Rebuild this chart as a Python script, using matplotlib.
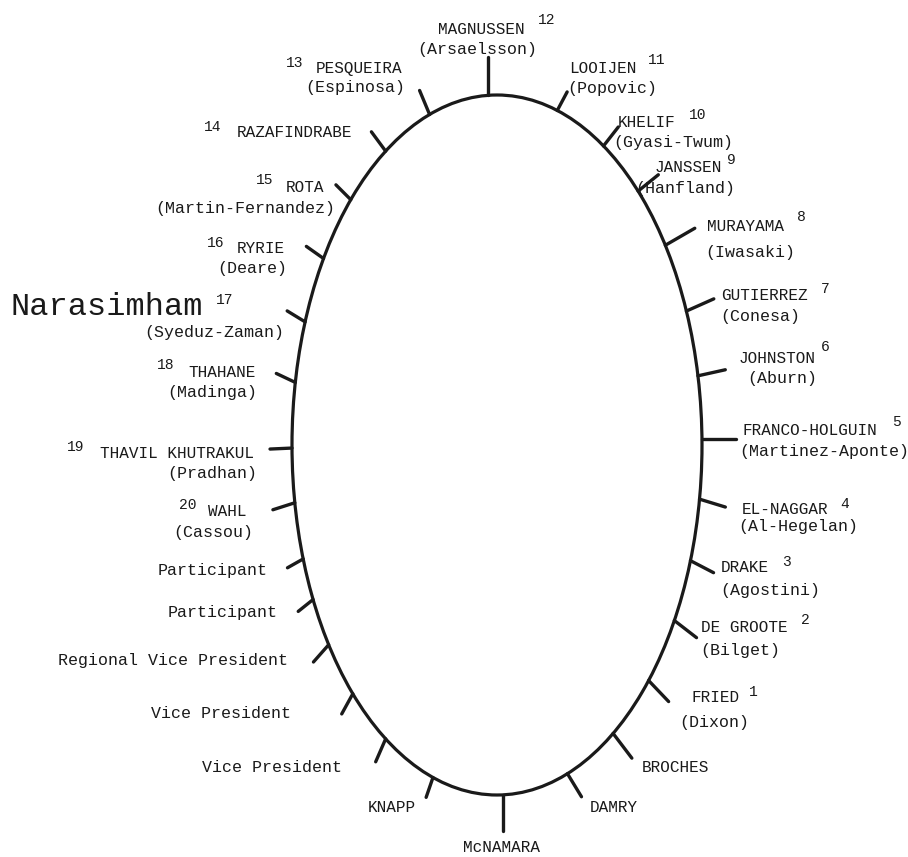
import numpy as np
import matplotlib
matplotlib.use("Agg")
import matplotlib.pyplot as plt
from matplotlib.patches import Ellipse

# ---------------- data (clockwise from the top seat) ----------------
seat_names = ["MAGNUSSEN", "LOOIJEN", "KHELIF", "JANSSEN", "MURAYAMA", "GUTIERREZ",
              "JOHNSTON", "FRANCO-HOLGUIN", "EL-NAGGAR", "DRAKE", "DE GROOTE", "FRIED",
              "BROCHES", "DAMRY", "McNAMARA", "KNAPP", "Vice President", "Vice President",
              "Regional Vice President", "Participant", "Participant", "WAHL",
              "THAVIL KHUTRAKUL", "THAHANE", "Narasimham", "RYRIE", "ROTA",
              "RAZAFINDRABE", "PESQUEIRA"]
seat_alternates = ["(Arsaelsson)", "(Popovic)", "(Gyasi-Twum)", "(Hanfland)", "(Iwasaki)",
                   "(Conesa)", "(Aburn)", "(Martinez-Aponte)", "(Al-Hegelan)", "(Agostini)",
                   "(Bilget)", "(Dixon)", "", "", "", "", "", "", "", "", "",
                   "(Cassou)", "(Pradhan)", "(Madinga)", "(Syeduz-Zaman)", "(Deare)",
                   "(Martin-Fernandez)", "", "(Espinosa)"]
seat_numbers = ["12", "11", "10", "9", "8", "7", "6", "5", "4", "3", "2", "1",
                "", "", "", "", "", "", "", "", "",
                "20", "19", "18", "17", "16", "15", "14", "13"]

# ---------------- layout ----------------
W, H = 908, 857
table_center = (497, 445)
table_a, table_b = 205, 350  # semi-axes (px)

# parametric angle of each seat on the table (deg)
seat_theta = [92.5, 72.9, 58.7, 46.5, 34.8, 22.5, 11.4, 1.0, -8.9, -19.3, -30.1, -42.3,
              -55.5, -69.9, -88.3, -108.2, -122.9, -134.7, -145.2, -153.8, -161.0, -170.5,
              180.5, 169.7, 159.4, 147.8, 135.5, 122.9, 109.2]
# direction (deg, y up) and length (px) of each seat mark
tick_dir = [90, 62, 52, 39, 30, 24, 12.5, 0, -17, -27.5, -37.7, -46.4, -52.8, -58.7,
            -90, -109, -113.5, -118.8, -131.4, -141.3, -150.6, -162.3, -177.4,
            154.7, 148.6, 144.8, 135, 126.4, 112.6]
tick_len = [38, 21, 24, 26, 34, 30, 28, 34, 27, 26, 28, 29, 31, 27, 36, 21, 25, 23, 23,
            19, 18, 23, 22, 21, 21, 21, 21, 24, 26]

name_xy = [(481, 29), (603, 68), (647, 122), (688, 167), (746, 226), (764, 296),
           (777, 358), (810, 430), (785, 509), (745, 568), (744, 628), (716, 698),
           (675, 767), (614, 807), (502, 847), (392, 807), (272, 767), (221, 713),
           (173, 660), (223, 612), (213, 571), (227, 511), (177, 453), (222, 372),
           (107, 307), (261, 248), (305, 187), (295, 132), (359, 68)]
alt_xy = [(477, 49), (612, 88), (673, 142), (685, 188), (750, 252), (760, 317),
          (782, 378), (824, 451), (798, 527), (770, 591), (740, 651), (714, 722),
          None, None, None, None, None, None, None, None, None,
          (213, 532), (212, 473), (212, 392), (214, 333), (252, 268), (245, 208),
          None, (355, 87)]
num_xy = [(547, 20), (657, 60), (698, 115), (731, 160), (801, 217), (825, 289),
          (825, 347), (896, 422), (845, 504), (786, 562), (805, 620), (753, 692),
          None, None, None, None, None, None, None, None, None,
          (188, 505), (76, 447), (166, 365), (225, 300), (216, 243), (265, 180),
          (213, 127), (295, 63)]

MONO = "Liberation Mono"

fig = plt.figure(figsize=(W / 100, H / 100), dpi=100)
ax = fig.add_axes([0, 0, 1, 1])
ax.set_xlim(0, W)
ax.set_ylim(H, 0)
ax.axis("off")

ax.add_patch(Ellipse(table_center, 2 * table_a, 2 * table_b, fill=False,
                     lw=2.3, color="#1a1a1a"))

cx, cy = table_center
for i in range(len(seat_names)):
    t = np.radians(seat_theta[i])
    px = cx + table_a * np.cos(t)
    py = cy - table_b * np.sin(t)
    d = np.radians(tick_dir[i])
    ex = px + tick_len[i] * np.cos(d)
    ey = py - tick_len[i] * np.sin(d)
    ax.plot([px, ex], [py, ey], color="#1a1a1a", lw=2.4, solid_capstyle="round")

    name = seat_names[i]
    if name == "Narasimham":
        fs = 23
    elif name.isupper() or name.startswith("Mc"):
        fs = 11.5
    else:
        fs = 12
    ax.text(*name_xy[i], name, ha="center", va="center", fontsize=fs,
            family=MONO, color="#1a1a1a")
    if seat_alternates[i]:
        ax.text(*alt_xy[i], seat_alternates[i], ha="center", va="center",
                fontsize=12, family=MONO, color="#1a1a1a")
    if seat_numbers[i]:
        ax.text(*num_xy[i], seat_numbers[i], ha="center", va="center",
                fontsize=10.5, family=MONO, color="#1a1a1a")

fig.savefig("out.png", dpi=100)
